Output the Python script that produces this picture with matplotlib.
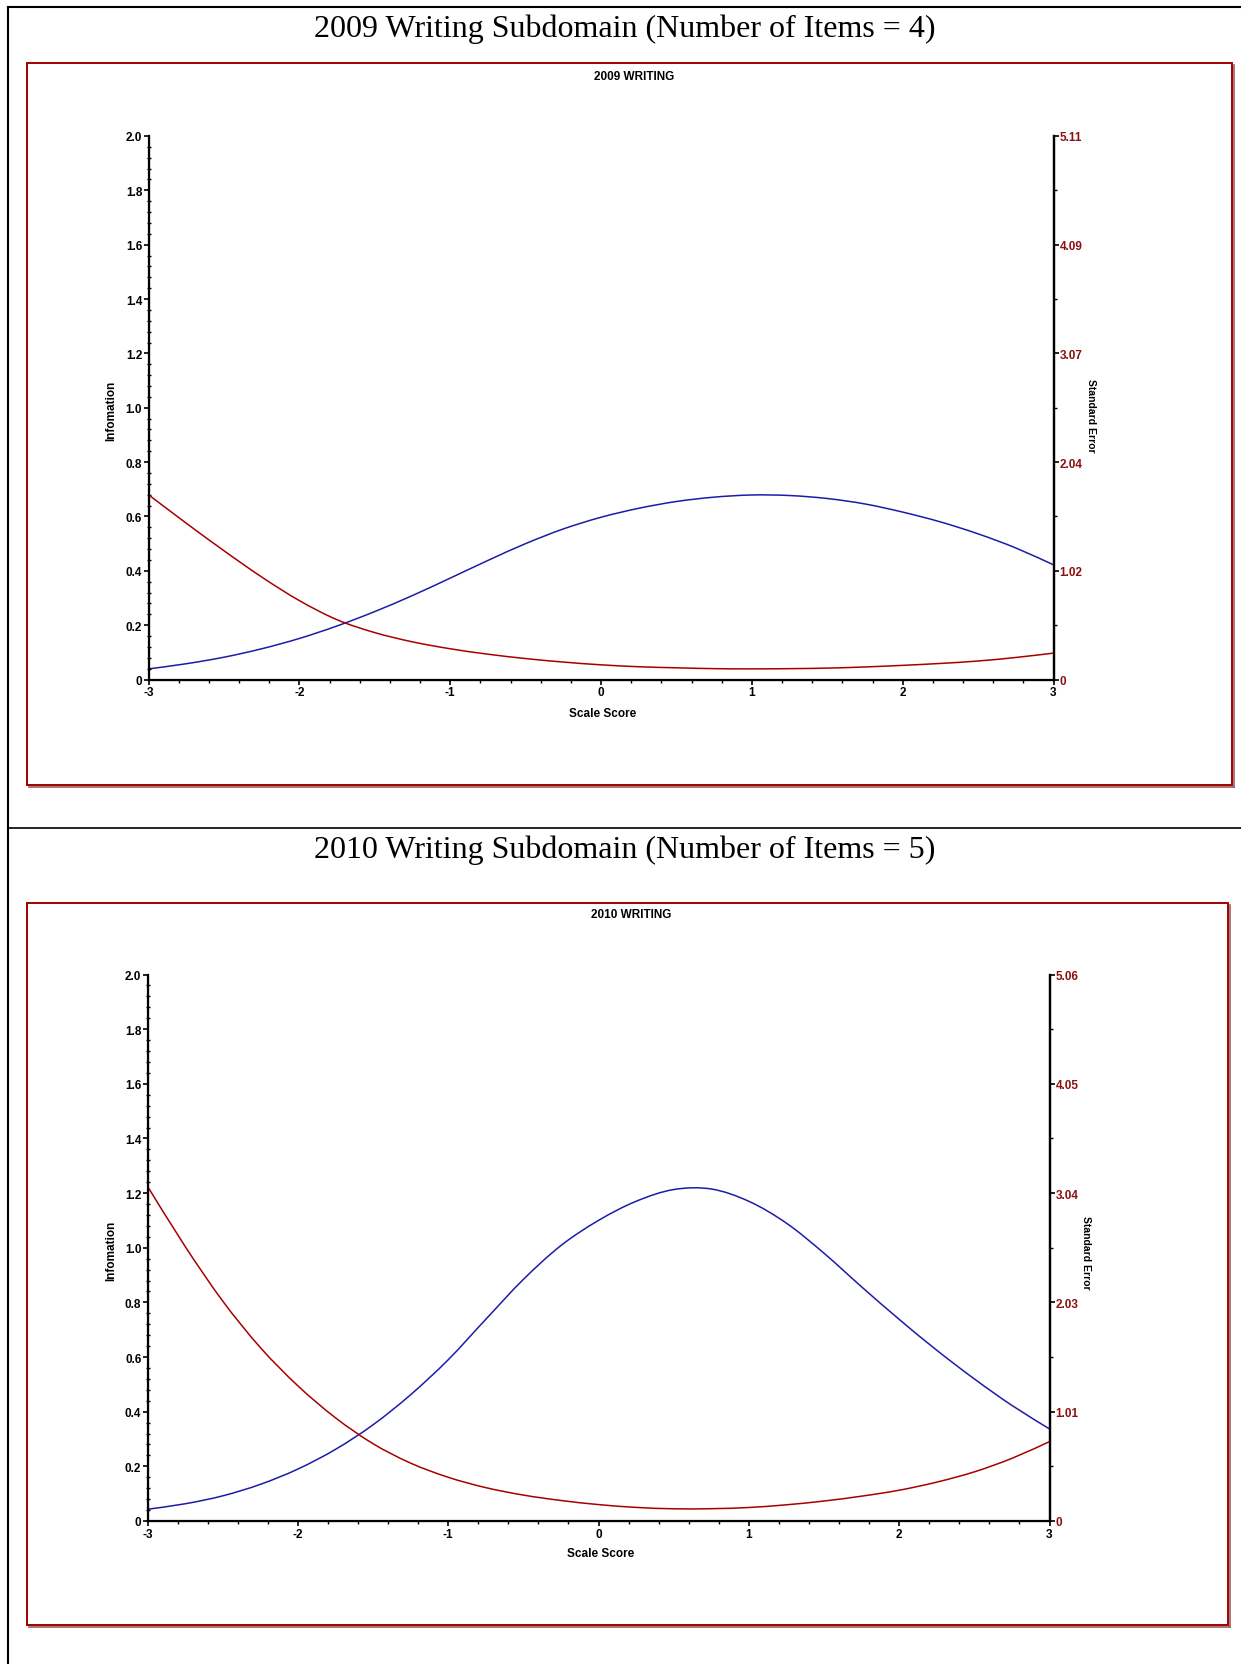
import numpy as np
import matplotlib
matplotlib.use('Agg')
import matplotlib.pyplot as plt
from matplotlib.patches import Rectangle, PathPatch
from matplotlib.lines import Line2D
from matplotlib.path import Path
from matplotlib.ticker import MultipleLocator, FixedLocator

plt.rcParams['axes.unicode_minus'] = False

# scale score grid (read every 0.25)
theta = [-3.0, -2.75, -2.5, -2.25, -2.0, -1.75, -1.5, -1.25, -1.0, -0.75, -0.5, -0.25,
         0.0, 0.25, 0.5, 0.75, 1.0, 1.25, 1.5, 1.75, 2.0, 2.25, 2.5, 2.75, 3.0]

# 2009 writing: test information and standard error
info_2009 = [0.039, 0.058, 0.082, 0.113, 0.151, 0.197, 0.250, 0.309, 0.373, 0.438, 0.500, 0.554,
             0.597, 0.630, 0.655, 0.671, 0.679, 0.677, 0.666, 0.646, 0.616, 0.580, 0.536, 0.484, 0.422]
se_2009 = [1.737, 1.470, 1.211, 0.964, 0.742, 0.562, 0.441, 0.354, 0.289, 0.238, 0.197, 0.164,
           0.138, 0.120, 0.110, 0.102, 0.100, 0.102, 0.107, 0.118, 0.133, 0.151, 0.174, 0.207, 0.248]

# 2010 writing
info_2010 = [0.043, 0.063, 0.092, 0.134, 0.190, 0.262, 0.352, 0.462, 0.590, 0.738, 0.884, 1.008,
             1.100, 1.170, 1.213, 1.215, 1.170, 1.090, 0.980, 0.857, 0.738, 0.625, 0.520, 0.423, 0.337]
se_2010 = [3.099, 2.543, 2.037, 1.607, 1.252, 0.956, 0.716, 0.536, 0.405, 0.309, 0.240, 0.190,
           0.152, 0.126, 0.113, 0.114, 0.125, 0.150, 0.185, 0.230, 0.285, 0.360, 0.455, 0.580, 0.735]

se_labels_2009 = ['0', '1.02', '2.04', '3.07', '4.09', '5.11']
se_labels_2010 = ['0', '1.01', '2.03', '3.04', '4.05', '5.06']
se_max_2009 = 5.11
se_max_2010 = 5.06

W, H = 1241, 1665
fig = plt.figure(figsize=(W / 100, H / 100), dpi=100)

BLUE = '#1c1ca8'
RED = '#a80000'
DARKRED = '#8b1010'
SANS = ['Liberation Sans', 'DejaVu Sans']
SERIF = ['Liberation Serif', 'DejaVu Serif']


def fx(x):
    return x / W


def fy(y):
    return 1 - y / H


def smooth_line(ax, x, y, color):
    # curve drawn through the read points (catmull-rom as bezier segments)
    x = np.asarray(x, float)
    y = np.asarray(y, float)
    n = len(x)
    verts = [(x[0], y[0])]
    codes = [Path.MOVETO]
    for i in range(n - 1):
        p0 = max(i - 1, 0)
        p3 = min(i + 2, n - 1)
        c1 = (x[i] + (x[i + 1] - x[p0]) / 6, y[i] + (y[i + 1] - y[p0]) / 6)
        c2 = (x[i + 1] - (x[p3] - x[i]) / 6, y[i + 1] - (y[p3] - y[i]) / 6)
        verts += [c1, c2, (x[i + 1], y[i + 1])]
        codes += [Path.CURVE4] * 3
    ax.add_patch(PathPatch(Path(verts, codes), fill=False, edgecolor=color, lw=1.1))


def panel(title, sub, info, se, se_labels, se_max, box, ax_px, lab_px):
    # red frame round the chart
    x0, y0, x1, y1 = box
    fig.patches.append(Rectangle((fx(x0), fy(y1)), fx(x1 - x0), (y1 - y0) / H,
                                 transform=fig.transFigure, fill=False,
                                 edgecolor='#a00000', lw=1.4))
    fig.lines.append(Line2D([fx(x0 + 2), fx(x1 + 1.5)], [fy(y1 + 1.5)] * 2,
                            transform=fig.transFigure, color='#9a6060', lw=1.2))
    fig.lines.append(Line2D([fx(x1 + 1.5)] * 2, [fy(y0 + 2), fy(y1 + 1.5)],
                            transform=fig.transFigure, color='#9a6060', lw=1.2))

    fig.text(fx(lab_px['title'][0]), fy(lab_px['title'][1]), title, family=SERIF,
             fontsize=23, ha='center', va='center')
    fig.text(fx(lab_px['sub'][0]), fy(lab_px['sub'][1]), sub, family=SANS,
             fontsize=8.5, fontweight='bold', ha='center', va='center')

    l, t, r, b = ax_px
    ax = fig.add_axes([fx(l), fy(b), fx(r - l), (b - t) / H])
    smooth_line(ax, theta, info, BLUE)
    ax.set_xlim(-3, 3)
    ax.set_ylim(0, 2.0)
    ax.spines['top'].set_visible(False)
    for s in ['left', 'bottom', 'right']:
        ax.spines[s].set_linewidth(1.6)
    ax.xaxis.set_major_locator(MultipleLocator(1))
    ax.xaxis.set_minor_locator(MultipleLocator(0.2))
    ax.yaxis.set_minor_locator(MultipleLocator(0.04))
    ax.set_yticks(np.arange(0, 2.01, 0.2))
    ax.set_yticklabels(['0'] + ['%.1f' % v for v in np.arange(0.2, 2.01, 0.2)])
    ax.tick_params(axis='both', which='major', direction='out', length=3.5, width=1.2,
                   pad=1, labelsize=8.5)
    ax.tick_params(axis='x', which='major', pad=1.5)
    ax.tick_params(axis='y', which='minor', direction='inout', length=3, width=1)
    ax.tick_params(axis='x', which='minor', direction='out', length=2.5, width=1)
    for lab in ax.get_xticklabels() + ax.get_yticklabels():
        lab.set_family(SANS)
        lab.set_fontweight('bold')

    ax2 = ax.twinx()
    smooth_line(ax2, theta, se, RED)
    ax2.set_ylim(0, se_max)
    ax2.spines['top'].set_visible(False)
    ax2.spines['right'].set_linewidth(1.6)
    ax2.set_yticks(np.linspace(0, se_max, 6))
    ax2.set_yticklabels(se_labels)
    ax2.yaxis.set_minor_locator(FixedLocator(np.linspace(0, se_max, 11)))
    ax2.tick_params(axis='y', which='major', direction='out', length=3.5, width=1.2,
                    pad=1, labelsize=8.5, labelcolor=DARKRED)
    ax2.tick_params(axis='y', which='minor', direction='out', length=2.5, width=1)
    for lab in ax2.get_yticklabels():
        lab.set_family(SANS)
        lab.set_fontweight('bold')

    fig.text(fx(lab_px['x'][0]), fy(lab_px['x'][1]), 'Scale Score', family=SANS,
             fontsize=8.5, fontweight='bold', ha='center', va='center')
    fig.text(fx(lab_px['y'][0]), fy(lab_px['y'][1]), 'Infomation', family=SANS,
             fontsize=8.5, fontweight='bold', ha='center', va='center', rotation=90)
    fig.text(fx(lab_px['y2'][0]), fy(lab_px['y2'][1]), 'Standard Error', family=SANS,
             fontsize=7.5, fontweight='bold', ha='center', va='center', rotation=-90)
    return ax


# outer table lines
fig.lines.append(Line2D([fx(8), fx(8)], [fy(8), fy(H)], transform=fig.transFigure,
                        color='black', lw=1.5))
fig.lines.append(Line2D([fx(8), 1], [fy(8), fy(8)], transform=fig.transFigure,
                        color='black', lw=1.5))
fig.lines.append(Line2D([fx(8), 1], [fy(829), fy(829)], transform=fig.transFigure,
                        color='black', lw=1.2))

panel('2009 Writing Subdomain (Number of Items = 4)', '2009 WRITING',
      info_2009, se_2009, se_labels_2009, se_max_2009,
      box=(27, 64, 1232, 786), ax_px=(148.5, 137, 1053.5, 680.5),
      lab_px={'title': (625, 29), 'sub': (634, 76.5), 'x': (603, 714.5),
              'y': (111.5, 411), 'y2': (1091, 416)})

panel('2010 Writing Subdomain (Number of Items = 5)', '2010 WRITING',
      info_2010, se_2010, se_labels_2010, se_max_2010,
      box=(27, 904, 1228, 1626), ax_px=(147.5, 975.5, 1049.5, 1522),
      lab_px={'title': (625, 850), 'sub': (631, 915), 'x': (601, 1554),
              'y': (111.5, 1250.5), 'y2': (1086, 1253)})

fig.savefig('out.png', dpi=100)
